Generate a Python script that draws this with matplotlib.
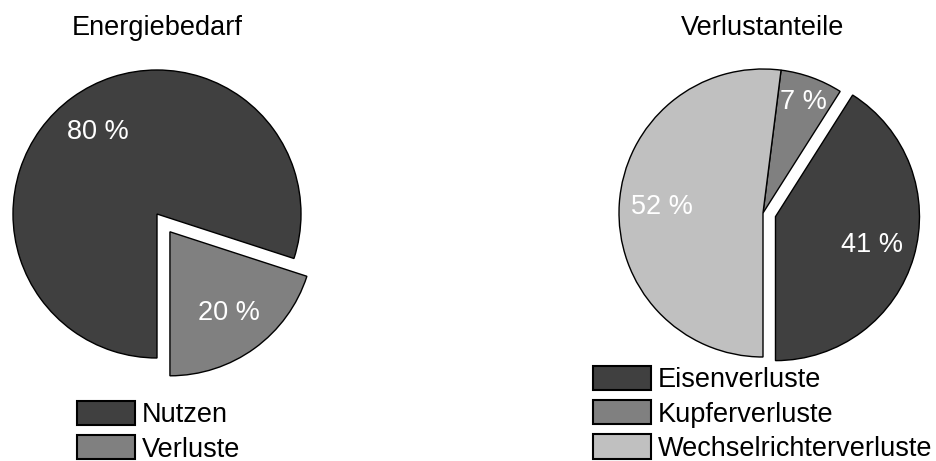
import matplotlib.pyplot as plt
import numpy as np

plt.rcParams['font.family'] = ['Liberation Sans', 'DejaVu Sans']
plt.rcParams['font.size'] = 19.5

# Energiebedarf
bedarf_labels = ["Nutzen", "Verluste"]
bedarf_werte = [80, 20]

# Verlustanteile
verlust_labels = ["Eisenverluste", "Kupferverluste", "Wechselrichterverluste"]
verlust_werte = [41, 7, 52]

dunkel, mittel, hell = "#404040", "#808080", "#c0c0c0"

W, H = 936, 461
fig = plt.figure(figsize=(W / 100, H / 100), dpi=100)
ax = fig.add_axes([0, 0, 1, 1])

keil = dict(edgecolor="black", linewidth=1.0)
txt = dict(color="white", fontsize=19.5)

# linkes Diagramm (Pixelkoordinaten, y nach oben; explode in Pixeln)
w1, t1, a1 = ax.pie(bedarf_werte, explode=[0, 22], center=(157, H - 214), radius=144,
                    startangle=-90, counterclock=False, colors=[dunkel, mittel],
                    wedgeprops=keil, autopct="%.0f %%", pctdistance=0.7, textprops=txt)

# rechtes Diagramm
w2, t2, a2 = ax.pie(verlust_werte, explode=[13, 0, 0], center=(763, H - 213), radius=144,
                    startangle=-90, counterclock=True, colors=[dunkel, mittel, hell],
                    wedgeprops=keil, autopct="%.0f %%", pctdistance=0.7, textprops=txt)

# kleines Segment: Beschriftung weiter nach außen
cx, cy = 763, H - 213
x, y = a2[1].get_position()
f = 0.82 / 0.7
a2[1].set_position((cx + (x - cx) * f, cy + (y - cy) * f))

ax.set_xlim(0, W)
ax.set_ylim(0, H)
ax.set_aspect("auto")
ax.axis("off")

ax.text(157, H - 35, "Energiebedarf", ha="center", va="baseline", fontsize=19.5)
ax.text(763, H - 35, "Verlustanteile", ha="center", va="baseline", fontsize=19.5)

leg = dict(loc="upper left", frameon=False, borderpad=0, borderaxespad=0,
           handlelength=2.15, handleheight=1.0, handletextpad=0.25,
           labelspacing=0.25, fontsize=19.5)
l1 = fig.legend(w1, bedarf_labels, bbox_to_anchor=(77 / W, 1 - 401 / H), **leg)
l2 = fig.legend(w2, verlust_labels, bbox_to_anchor=(593 / W, 1 - 366 / H), **leg)
for l in (l1, l2):
    for p in l.get_patches():
        p.set_linewidth(1.5)

fig.savefig("out.png", dpi=100)
